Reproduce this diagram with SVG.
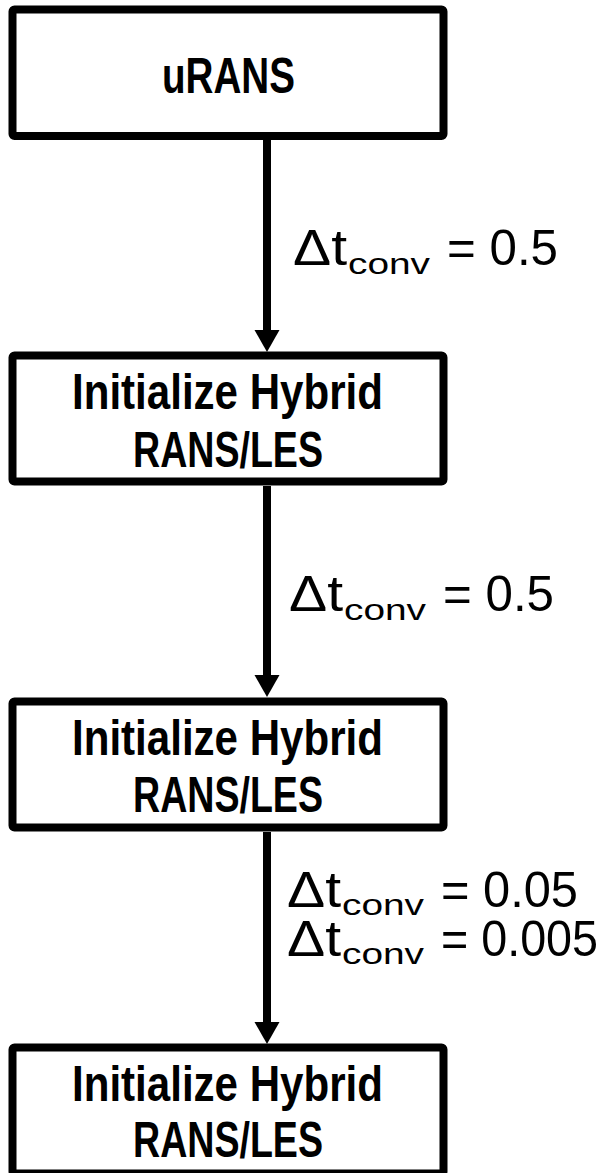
<svg xmlns="http://www.w3.org/2000/svg" width="613" height="1173" viewBox="0 0 613 1173">
<style>
.box{fill:#fff;stroke:#000;stroke-width:8;stroke-linejoin:round}
.t{font-family:"Liberation Sans",Arial,sans-serif;font-weight:bold;font-size:50px;fill:#000;text-anchor:middle}
.lbl{font-family:"Liberation Sans",Arial,sans-serif;font-size:50px;fill:#000}
.sub{font-size:29px}
.conn{stroke:#000;stroke-width:8;fill:none}
</style>
<defs>
<marker id="ah" markerUnits="userSpaceOnUse" viewBox="0 -12.5 22 25" refX="0" refY="0" markerWidth="22" markerHeight="25" orient="auto" overflow="visible">
<path d="M0,-12.5 L22,0 L0,12.5 z" fill="#000"/>
</marker>
</defs>
<g id="connectors">
<line class="conn" x1="267" y1="140" x2="267" y2="330" marker-end="url(#ah)"/>
<line class="conn" x1="267" y1="486" x2="267" y2="675" marker-end="url(#ah)"/>
<line class="conn" x1="267" y1="832" x2="267" y2="1022" marker-end="url(#ah)"/>
<text class="lbl" y="265"><tspan x="293" textLength="54" lengthAdjust="spacingAndGlyphs">Δt</tspan><tspan class="sub" x="348" dy="9" textLength="82" lengthAdjust="spacingAndGlyphs">conv</tspan><tspan x="447" dy="-9" textLength="111" lengthAdjust="spacingAndGlyphs">= 0.5</tspan></text>
<text class="lbl" y="611"><tspan x="289" textLength="54" lengthAdjust="spacingAndGlyphs">Δt</tspan><tspan class="sub" x="344" dy="9" textLength="82" lengthAdjust="spacingAndGlyphs">conv</tspan><tspan x="443" dy="-9" textLength="111" lengthAdjust="spacingAndGlyphs">= 0.5</tspan></text>
<text class="lbl" y="907"><tspan x="287" textLength="54" lengthAdjust="spacingAndGlyphs">Δt</tspan><tspan class="sub" x="342" dy="8" textLength="82" lengthAdjust="spacingAndGlyphs">conv</tspan><tspan x="441" dy="-8" textLength="137" lengthAdjust="spacingAndGlyphs">= 0.05</tspan></text>
<text class="lbl" y="956"><tspan x="287" textLength="54" lengthAdjust="spacingAndGlyphs">Δt</tspan><tspan class="sub" x="342" dy="8" textLength="82" lengthAdjust="spacingAndGlyphs">conv</tspan><tspan x="441" dy="-8" textLength="157" lengthAdjust="spacingAndGlyphs">= 0.005</tspan></text>
</g>
<g id="node-urans">
<rect class="box" x="12.5" y="9.5" width="431" height="126.5" rx="2"/>
<text class="t" x="228.5" y="93" textLength="133" lengthAdjust="spacingAndGlyphs">uRANS</text>
</g>
<g id="node-hybrid-1">
<rect class="box" x="12.5" y="355.5" width="431" height="126" rx="2"/>
<text class="t" x="227.5" y="409" textLength="311" lengthAdjust="spacingAndGlyphs">Initialize Hybrid</text>
<text class="t" x="228" y="467" textLength="190" lengthAdjust="spacingAndGlyphs">RANS/LES</text>
</g>
<g id="node-hybrid-2">
<rect class="box" x="12.5" y="701.5" width="431" height="126" rx="2"/>
<text class="t" x="227.5" y="755" textLength="311" lengthAdjust="spacingAndGlyphs">Initialize Hybrid</text>
<text class="t" x="228" y="812" textLength="190" lengthAdjust="spacingAndGlyphs">RANS/LES</text>
</g>
<g id="node-hybrid-3">
<rect class="box" x="12.5" y="1047.5" width="431" height="126" rx="2"/>
<text class="t" x="227.5" y="1101" textLength="311" lengthAdjust="spacingAndGlyphs">Initialize Hybrid</text>
<text class="t" x="228" y="1157" textLength="190" lengthAdjust="spacingAndGlyphs">RANS/LES</text>
</g>
</svg>
